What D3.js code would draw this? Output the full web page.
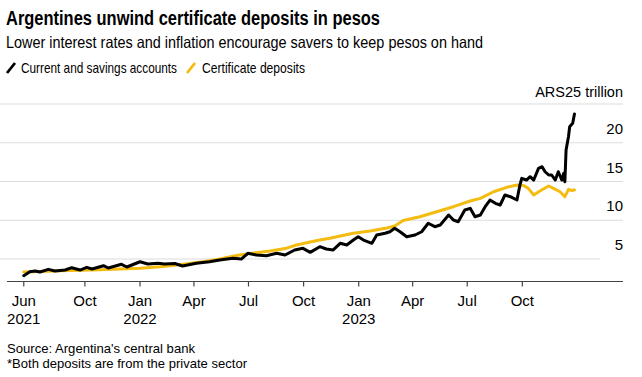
<!DOCTYPE html>
<html>
<head>
<meta charset="utf-8">
<script src="https://cdn.jsdelivr.net/npm/d3@7"></script>
<style>
  html, body { margin: 0; padding: 0; background: #fff; }
  svg { display: block; font-family: "Liberation Sans", Arial, sans-serif; }
</style>
</head>
<body>
<svg id="chart" width="642" height="377"></svg>
<script>
// ---- Data (ARS trillion) ----
const currentDates = ["2021-06-21","2021-07-01","2021-07-10","2021-07-18","2021-08-01","2021-08-12","2021-08-29","2021-09-09","2021-09-23","2021-10-04","2021-10-13","2021-11-01","2021-11-09","2021-12-01","2021-12-10",
"2022-01-01","2022-01-14","2022-01-31","2022-02-11","2022-02-28","2022-03-13","2022-04-05","2022-04-27","2022-05-14","2022-06-05","2022-06-19","2022-06-30","2022-07-14","2022-07-31","2022-08-17","2022-08-31","2022-09-16","2022-09-30","2022-10-12","2022-10-28","2022-11-08","2022-11-19","2022-12-01","2022-12-12","2022-12-23","2022-12-31",
"2023-01-09","2023-01-23","2023-01-31","2023-02-14","2023-02-22","2023-03-02","2023-03-11","2023-03-22","2023-04-05","2023-04-16","2023-04-27","2023-05-08","2023-05-17","2023-05-31","2023-06-08","2023-06-16","2023-06-27","2023-07-06","2023-07-14","2023-07-23","2023-07-31","2023-08-08","2023-08-17","2023-08-25","2023-09-02","2023-09-11","2023-09-22","2023-09-27","2023-09-30","2023-10-08","2023-10-14","2023-10-20","2023-10-28","2023-11-03","2023-11-08","2023-11-14","2023-11-19","2023-11-25","2023-11-30","2023-12-06","2023-12-09","2023-12-11","2023-12-13","2023-12-17","2023-12-19","2023-12-24","2023-12-27"];
const currentValues = [2.85,3.36,3.45,3.32,3.67,3.45,3.58,3.88,3.58,3.93,3.71,4.14,3.84,4.32,3.97,
4.65,4.35,4.45,4.35,4.42,4.10,4.45,4.65,4.87,5.09,5.00,5.74,5.52,5.43,5.74,5.52,6.16,6.38,5.86,6.59,6.29,6.16,7.03,6.81,7.45,7.88,
7.45,7.03,8.10,8.32,8.52,8.96,8.52,7.88,8.10,8.52,9.61,9.17,9.39,10.68,10.03,9.81,11.32,11.54,10.46,10.68,11.75,12.61,12.19,11.97,13.26,13.04,12.61,14.55,15.41,15.19,15.62,15.19,16.70,16.91,16.26,15.84,15.84,15.19,16.26,15.19,16.06,14.97,19.06,20.78,22.07,22.51,23.71];

const certDates = ["2021-06-21","2021-07-18","2021-08-20","2021-09-23","2021-10-26","2021-11-28","2022-01-01","2022-02-03","2022-02-28","2022-03-25","2022-04-19","2022-05-14","2022-06-11","2022-07-03","2022-08-06","2022-08-31","2022-09-19","2022-10-12","2022-10-28","2022-11-14","2022-12-09","2022-12-23",
"2023-01-20","2023-02-17","2023-03-02","2023-03-16","2023-04-13","2023-05-11","2023-06-08","2023-07-06","2023-07-23","2023-08-14","2023-09-05","2023-09-22","2023-10-03","2023-10-11","2023-10-20","2023-10-31","2023-11-14","2023-11-22","2023-12-03","2023-12-11","2023-12-17","2023-12-23","2023-12-27"];
const certValues = [3.32,3.39,3.49,3.55,3.61,3.71,3.80,3.99,4.19,4.42,4.68,5.00,5.45,5.71,6.03,6.35,6.81,7.19,7.45,7.67,8.10,8.32,
8.61,9.00,9.26,9.97,10.46,11.10,11.75,12.48,12.83,13.68,14.25,14.55,14.48,14.12,13.26,13.81,14.42,14.12,13.68,13.04,13.99,13.84,13.90];

const tickDates = ["2021-06-21","2021-10-01","2022-01-01","2022-04-01","2022-07-01","2022-10-01","2023-01-01","2023-04-01","2023-07-01","2023-10-01"];
const tickMonths = ["Jun","Oct","Jan","Apr","Jul","Oct","Jan","Apr","Jul","Oct"];
const tickYears  = ["2021","","2022","","","","2023","","",""];
const yTicks = [5, 10, 15, 20];
const yTopLabel = "ARS25 trillion";

const seriesNames = ["Current and savings accounts", "Certificate deposits"];
const seriesColors = ["#000000", "#f4bb10"];

// ---- Setup ----
const parse = d3.timeParse("%Y-%m-%d");
const svg = d3.select("#chart");

const x = d3.scaleTime()
  .domain([parse("2021-05-24"), parse("2024-03-17")])
  .range([7, 623]);
const y = d3.scaleLinear().domain([2.1, 25]).range([281.5, 104]);

// Titles
svg.append("text").attr("x", 6).attr("y", 25)
  .attr("font-size", 19.5).attr("font-weight", 700).attr("fill", "#000")
  .attr("textLength", 374).attr("lengthAdjust", "spacingAndGlyphs")
  .text("Argentines unwind certificate deposits in pesos");
svg.append("text").attr("x", 6).attr("y", 48)
  .attr("font-size", 16.5).attr("fill", "#000")
  .attr("textLength", 477).attr("lengthAdjust", "spacingAndGlyphs")
  .text("Lower interest rates and inflation encourage savers to keep pesos on hand");

// Legend
const legendItems = [
  {x0: 7, tx: 21, w: 156},
  {x0: 187, tx: 202, w: 103}
];
legendItems.forEach((d, i) => {
  svg.append("line").attr("x1", d.x0).attr("y1", 73).attr("x2", d.x0 + 8).attr("y2", 63)
    .attr("stroke", seriesColors[i]).attr("stroke-width", 2.8);
  svg.append("text").attr("x", d.tx).attr("y", 73)
    .attr("font-size", 14.5).attr("fill", "#000")
    .attr("textLength", d.w).attr("lengthAdjust", "spacingAndGlyphs")
    .text(seriesNames[i]);
});

// Gridlines
const gridVals = [...yTicks, 25];
svg.append("g").selectAll("line").data(gridVals).join("line")
  .attr("x1", 0).attr("x2", d => d === 5 ? 600 : 623)
  .attr("y1", d => y(d)).attr("y2", d => y(d))
  .attr("stroke", "#dcdcdc").attr("stroke-width", 1.2);

// Y labels (above gridlines, right aligned)
svg.append("g").selectAll("text").data(yTicks).join("text")
  .attr("x", 623).attr("y", d => y(d) - 9)
  .attr("text-anchor", "end").attr("font-size", 15).attr("fill", "#000")
  .text(d => d);
svg.append("text").attr("x", 623).attr("y", y(25) - 7)
  .attr("text-anchor", "end").attr("font-size", 14.5).attr("fill", "#000")
  .text(yTopLabel);

// X axis
const axisY = y(2.1);
svg.append("line").attr("x1", 7).attr("x2", 623).attr("y1", axisY).attr("y2", axisY)
  .attr("stroke", "#444").attr("stroke-width", 1.2);
const tg = svg.append("g").selectAll("g").data(tickDates).join("g")
  .attr("transform", d => `translate(${x(parse(d))},0)`);
tg.append("line").attr("y1", axisY).attr("y2", axisY + 5).attr("stroke", "#444").attr("stroke-width", 1.2);
tg.append("text").attr("y", 306).attr("text-anchor", "middle").attr("font-size", 15).attr("fill", "#000")
  .text((d, i) => tickMonths[i]);
tg.append("text").attr("y", 324).attr("text-anchor", "middle").attr("font-size", 15).attr("fill", "#000")
  .text((d, i) => tickYears[i]);

// Lines
const line = d3.line().x(d => x(d.date)).y(d => y(d.value)).curve(d3.curveLinear);
const certData = certDates.map((d, i) => ({date: parse(d), value: certValues[i]}));
const currentData = currentDates.map((d, i) => ({date: parse(d), value: currentValues[i]}));

svg.append("path").datum(certData).attr("d", line)
  .attr("fill", "none").attr("stroke", seriesColors[1]).attr("stroke-width", 3)
  .attr("stroke-linejoin", "round").attr("stroke-linecap", "round");
svg.append("path").datum(currentData).attr("d", line)
  .attr("fill", "none").attr("stroke", seriesColors[0]).attr("stroke-width", 3)
  .attr("stroke-linejoin", "round").attr("stroke-linecap", "round");

// Footer
svg.append("text").attr("x", 7).attr("y", 353).attr("font-size", 13).attr("fill", "#000")
  .attr("textLength", 188).attr("lengthAdjust", "spacingAndGlyphs")
  .text("Source: Argentina's central bank");
svg.append("text").attr("x", 7).attr("y", 368).attr("font-size", 13).attr("fill", "#000")
  .attr("textLength", 240).attr("lengthAdjust", "spacingAndGlyphs")
  .text("*Both deposits are from the private sector");
</script>
</body>
</html>
